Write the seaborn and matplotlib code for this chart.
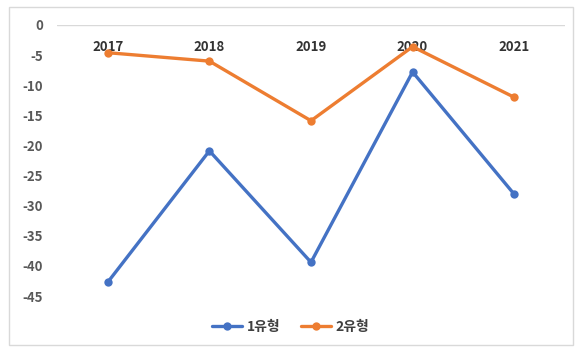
import matplotlib
matplotlib.use("Agg")
import matplotlib.pyplot as plt
import seaborn as sns
import pandas as pd
from matplotlib.patches import Rectangle

years = ["2017", "2018", "2019", "2020", "2021"]
type1 = [-42.7, -20.9, -39.4, -7.8, -28.1]
type2 = [-4.6, -6.0, -15.9, -3.6, -12.0]
series_names = ["1유형", "2유형"]
y_ticks = [0, -5, -10, -15, -20, -25, -30, -35, -40, -45]

sns.set_theme(style="white")
plt.rcParams["font.family"] = ["Noto Sans CJK KR", "DejaVu Sans"]
plt.rcParams["font.weight"] = "bold"

df = pd.DataFrame({
    "year": years * 2,
    "value": type1 + type2,
    "series": [series_names[0]] * len(years) + [series_names[1]] * len(years),
})

W, H = 581, 349
fig = plt.figure(figsize=(W / 100, H / 100), dpi=100)
ax = fig.add_axes([57 / W, 1 - 296 / H, (565 - 57) / W, (296 - 25) / H])

palette = {series_names[0]: "#4472C4", series_names[1]: "#ED7D31"}
sns.lineplot(data=df, x="year", y="value", hue="series", palette=palette,
             marker="o", markersize=6, markeredgewidth=0, linewidth=2.4,
             sort=False, ax=ax)

ax.set_xlim(-0.5, len(years) - 0.5)
ax.set_ylim(-45, 0)
ax.set_yticks(y_ticks)
ax.set_yticklabels([str(t) for t in y_ticks])
ax.set_xlabel("")
ax.set_ylabel("")

for s in ax.spines.values():
    s.set_visible(False)
ax.axhline(0, color="#D9D9D9", linewidth=1.0, zorder=0)

ax.xaxis.tick_top()
ax.tick_params(axis="x", length=0, pad=-21, labelsize=9.5, labelcolor="#333333")
ax.tick_params(axis="y", length=0, pad=10, labelsize=9.5, labelcolor="#595959")
for lab in ax.get_xticklabels() + ax.get_yticklabels():
    lab.set_fontweight("bold")

handles, labels = ax.get_legend_handles_labels()
ax.legend(handles, labels, loc="center", bbox_to_anchor=(0.5, 1 - 327 / H),
          bbox_transform=fig.transFigure, ncol=2, frameon=False,
          prop={"family": ["Noto Sans CJK KR", "DejaVu Sans"], "weight": "bold", "size": 10},
          labelcolor="#404040", handlelength=2.2, columnspacing=1.5, handletextpad=0.3)

fig.patches.append(Rectangle((9 / W, 1 - 345 / H), (573 - 9) / W, (345 - 7) / H,
                             transform=fig.transFigure, fill=False,
                             edgecolor="#D9D9D9", linewidth=1.0))

fig.savefig("out.png", dpi=100)
